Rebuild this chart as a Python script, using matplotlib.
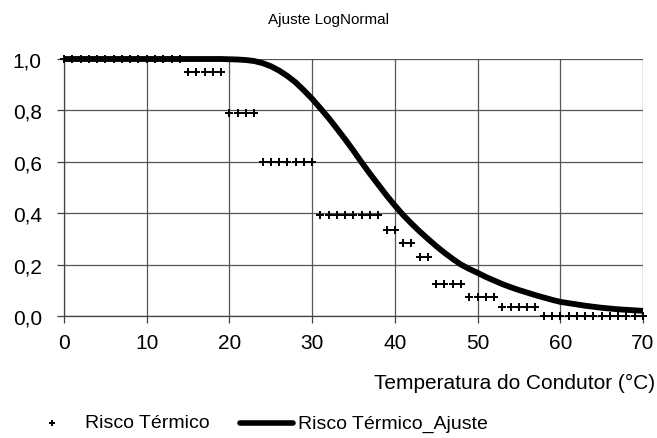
import matplotlib
matplotlib.use("Agg")
import matplotlib.pyplot as plt
from matplotlib.lines import Line2D

plt.rcParams['font.family'] = ['Liberation Sans', 'DejaVu Sans']

# Observed data (Risco Térmico)
obs_temp = list(range(0, 71))
obs_risk = ([1.0] * 15 + [0.95] * 5 + [0.79] * 4 + [0.60] * 7 + [0.393] * 8
            + [0.336] * 2 + [0.285] * 2 + [0.23] * 2 + [0.125] * 4 + [0.073] * 4
            + [0.035] * 5 + [0.0] * 13)

# Fitted curve (Risco Térmico_Ajuste)
fit_temp = list(range(0, 71))
fit_risk = [1.000] * 18 + [
    1.000, 1.000, 0.999, 0.998, 0.996, 0.992, 0.984, 0.972, 0.955, 0.934,
    0.909, 0.878, 0.845, 0.808, 0.770, 0.729, 0.687, 0.643, 0.597, 0.553,
    0.511, 0.469, 0.430, 0.393, 0.360, 0.329, 0.300, 0.272, 0.246, 0.222,
    0.200, 0.183, 0.168, 0.152, 0.138, 0.124, 0.112, 0.101, 0.091, 0.081,
    0.072, 0.063, 0.055, 0.050, 0.045, 0.040, 0.036, 0.032, 0.029, 0.026,
    0.024, 0.022, 0.020]

x_ticks = [0, 10, 20, 30, 40, 50, 60, 70]
y_ticks = [0.0, 0.2, 0.4, 0.6, 0.8, 1.0]
y_tick_labels = ["0,0", "0,2", "0,4", "0,6", "0,8", "1,0"]

W, H = 657, 439
fig = plt.figure(figsize=(W / 100, H / 100), dpi=100)
ax = fig.add_axes([64 / W, 1 - 317 / H, (643 - 64) / W, (317 - 60) / H])

ax.plot(fit_temp, fit_risk, color='black', lw=4.2, solid_capstyle='butt',
        clip_on=False, zorder=3)
ax.plot(obs_temp, obs_risk, linestyle='none', marker='+', color='black',
        markersize=6, markeredgewidth=1.4, clip_on=False, zorder=4)

ax.set_xlim(0, 70)
ax.set_ylim(0, 1.0)
ax.set_xticks(x_ticks)
ax.set_xticklabels([str(v) for v in x_ticks])
ax.set_yticks(y_ticks)
ax.set_yticklabels(y_tick_labels)
ax.grid(True, color='#555555', lw=0.9)
ax.set_axisbelow(True)
for s in ['top', 'right']:
    ax.spines[s].set_visible(False)
for s in ['left', 'bottom']:
    ax.spines[s].set_color('#404040')
    ax.spines[s].set_linewidth(0.9)
ax.tick_params(axis='both', direction='out', length=5, width=0.9,
               color='#404040', labelsize=15)
ax.tick_params(axis='x', pad=7)
ax.tick_params(axis='y', pad=11)

fig.text(328 / W, 1 - 20 / H, "Ajuste LogNormal", ha='center', va='center',
         fontsize=11)
fig.text(655 / W, 1 - 383 / H, "Temperatura do Condutor (°C)", ha='right',
         va='center', fontsize=15)

# Legend (manual layout)
ly = 1 - 424 / H
fig.add_artist(Line2D([52 / W], [ly], linestyle='none', marker='+',
                      color='black', markersize=5, markeredgewidth=1.4))
fig.text(85 / W, ly, "Risco Térmico", ha='left', va='center', fontsize=14)
fig.add_artist(Line2D([240 / W, 293 / W], [ly, ly], color='black', lw=4,
                      solid_capstyle='round'))
fig.text(298 / W, ly, "Risco Térmico_Ajuste", ha='left', va='center',
         fontsize=14)

fig.savefig("out.png", dpi=100)
